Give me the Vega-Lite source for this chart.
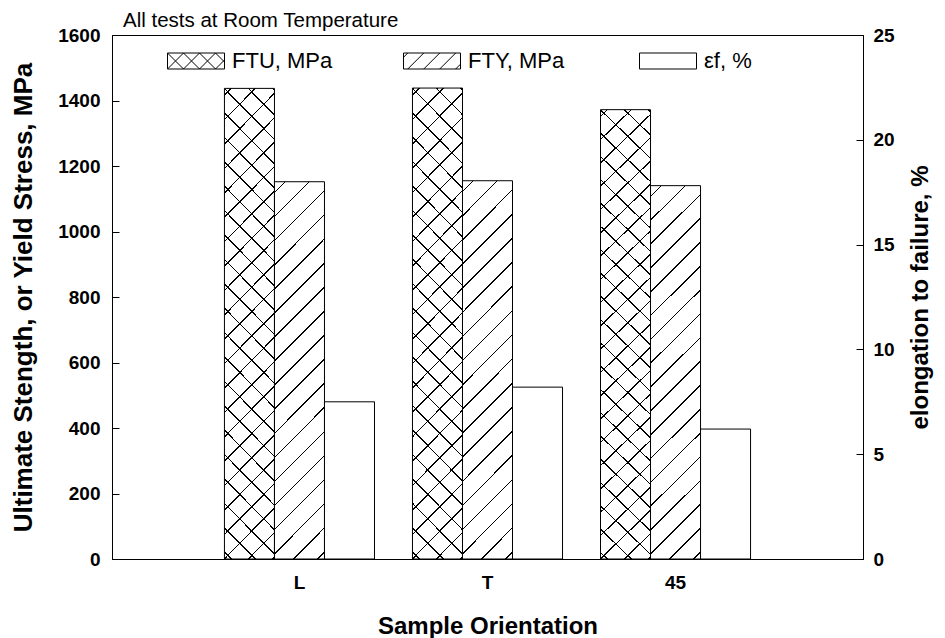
{
  "$schema": "https://vega.github.io/schema/vega-lite/v6.json",
  "width": 751,
  "height": 524,
  "autosize": {"type": "none"},
  "padding": {"left": 112, "top": 35, "right": 82, "bottom": 79},
  "title": {"text": "All tests at Room Temperature", "anchor": "start", "frame": "group", "fontSize": 20.5, "fontWeight": "normal", "font": "Liberation Sans", "color": "black", "offset": -7, "dx": 11, "dy": 14, "baseline": "alphabetic"},
  "data": {"values": [
    {"orientation": "L", "series": "FTU, MPa", "value": 1437},
    {"orientation": "L", "series": "FTY, MPa", "value": 1152},
    {"orientation": "L", "series": "εf, %", "value": 7.5},
    {"orientation": "T", "series": "FTU, MPa", "value": 1438},
    {"orientation": "T", "series": "FTY, MPa", "value": 1155},
    {"orientation": "T", "series": "εf, %", "value": 8.2},
    {"orientation": "45", "series": "FTU, MPa", "value": 1372},
    {"orientation": "45", "series": "FTY, MPa", "value": 1140},
    {"orientation": "45", "series": "εf, %", "value": 6.2}
  ]},
  "encoding": {
    "x": {"field": "orientation", "type": "nominal", "sort": ["L", "T", "45"],
      "scale": {"paddingInner": 0.202, "paddingOuter": 0.598},
      "axis": {"title": "Sample Orientation", "labelAngle": 0, "labelPadding": 21, "titlePadding": 22}},
    "xOffset": {"field": "series", "type": "nominal", "scale": {"domain": ["FTU, MPa", "FTY, MPa", "εf, %"], "paddingInner": 0, "paddingOuter": 0}}
  },
  "layer": [
    {"layer": [
      {"transform": [{"filter": "datum.series !== 'εf, %'"}],
       "mark": {"type": "bar", "stroke": "black", "strokeWidth": 1},
       "encoding": {
         "y": {"field": "value", "type": "quantitative", "scale": {"domain": [0, 1600], "nice": false},
           "axis": {"title": "Ultimate Stength, or Yield Stress, MPa", "titleFontSize": 26, "values": [0, 200, 400, 600, 800, 1000, 1200, 1400, 1600], "format": "d", "labelPadding": 19, "titlePadding": 21}},
         "fill": {"field": "series", "type": "nominal",
           "scale": {"domain": ["FTU, MPa", "FTY, MPa", "εf, %"], "range": ["white", "white", "white"]},
           "legend": {"orient": "none", "legendX": 55, "legendY": -3, "direction": "horizontal", "columns": 3, "gridAlign": "all", "columnPadding": 68, "title": null,
             "symbolSize": 3249, "symbolStrokeColor": "black", "symbolStrokeWidth": 1, "symbolFillColor": "white", "symbolOpacity": 1,
             "labelFontSize": 22, "labelFont": "Liberation Sans", "labelColor": "black", "labelOffset": 7, "labelLimit": 300,
             "encode": {"symbols": {"update": {
               "shape": {"signal": "datum.value === 'FTU, MPa' ? 'M-1,-0.2807H1V0.2807H-1Z M-1,-0.2807L-0.4386,0.2807 M-0.4386,-0.2807L0.1228,0.2807 M0.1228,-0.2807L0.6842,0.2807 M0.6842,-0.2807L1,0.0351 M-1,0.2807L-0.4386,-0.2807 M-0.4386,0.2807L0.1228,-0.2807 M0.1228,0.2807L0.6842,-0.2807 M0.6842,0.2807L1,-0.0351' : datum.value === 'FTY, MPa' ? 'M-1,-0.2807H1V0.2807H-1Z M-1,-0.1307L-0.85,-0.2807 M-0.85,0.2807L-0.2886,-0.2807 M-0.29,0.2807L0.2714,-0.2807 M0.27,0.2807L0.8314,-0.2807 M0.83,0.2807L1,0.1107' : 'M-1,-0.2807H1V0.2807H-1Z'"},
               "stroke": {"value": "black"},
               "strokeWidth": {"value": 1},
               "fill": {"value": "white"},
               "opacity": {"value": 1}
             }}}}}
       }},
      {"transform": [{"filter": "datum.series === 'FTU, MPa'"}],
       "mark": {"type": "bar", "fill": {"gradient": "linear", "x1": 0, "y1": 0, "x2": 0.11827, "y2": 1.0952, "stops": [
         {"offset": 0, "color": "rgba(0,0,0,0)"},
         {"offset": 0.01170, "color": "rgba(0,0,0,0)"}, {"offset": 0.01170, "color": "#000"}, {"offset": 0.01481, "color": "#000"}, {"offset": 0.01481, "color": "rgba(0,0,0,0)"},
         {"offset": 0.05848, "color": "rgba(0,0,0,0)"}, {"offset": 0.05848, "color": "#000"}, {"offset": 0.06160, "color": "#000"}, {"offset": 0.06160, "color": "rgba(0,0,0,0)"},
         {"offset": 0.10526, "color": "rgba(0,0,0,0)"}, {"offset": 0.10526, "color": "#000"}, {"offset": 0.10838, "color": "#000"}, {"offset": 0.10838, "color": "rgba(0,0,0,0)"},
         {"offset": 0.15205, "color": "rgba(0,0,0,0)"}, {"offset": 0.15205, "color": "#000"}, {"offset": 0.15517, "color": "#000"}, {"offset": 0.15517, "color": "rgba(0,0,0,0)"},
         {"offset": 0.19883, "color": "rgba(0,0,0,0)"}, {"offset": 0.19883, "color": "#000"}, {"offset": 0.20195, "color": "#000"}, {"offset": 0.20195, "color": "rgba(0,0,0,0)"},
         {"offset": 0.24561, "color": "rgba(0,0,0,0)"}, {"offset": 0.24561, "color": "#000"}, {"offset": 0.24873, "color": "#000"}, {"offset": 0.24873, "color": "rgba(0,0,0,0)"},
         {"offset": 0.29240, "color": "rgba(0,0,0,0)"}, {"offset": 0.29240, "color": "#000"}, {"offset": 0.29552, "color": "#000"}, {"offset": 0.29552, "color": "rgba(0,0,0,0)"},
         {"offset": 0.33918, "color": "rgba(0,0,0,0)"}, {"offset": 0.33918, "color": "#000"}, {"offset": 0.34230, "color": "#000"}, {"offset": 0.34230, "color": "rgba(0,0,0,0)"},
         {"offset": 0.38596, "color": "rgba(0,0,0,0)"}, {"offset": 0.38596, "color": "#000"}, {"offset": 0.38908, "color": "#000"}, {"offset": 0.38908, "color": "rgba(0,0,0,0)"},
         {"offset": 0.43275, "color": "rgba(0,0,0,0)"}, {"offset": 0.43275, "color": "#000"}, {"offset": 0.43587, "color": "#000"}, {"offset": 0.43587, "color": "rgba(0,0,0,0)"},
         {"offset": 0.47953, "color": "rgba(0,0,0,0)"}, {"offset": 0.47953, "color": "#000"}, {"offset": 0.48265, "color": "#000"}, {"offset": 0.48265, "color": "rgba(0,0,0,0)"},
         {"offset": 0.52632, "color": "rgba(0,0,0,0)"}, {"offset": 0.52632, "color": "#000"}, {"offset": 0.52943, "color": "#000"}, {"offset": 0.52943, "color": "rgba(0,0,0,0)"},
         {"offset": 0.57310, "color": "rgba(0,0,0,0)"}, {"offset": 0.57310, "color": "#000"}, {"offset": 0.57622, "color": "#000"}, {"offset": 0.57622, "color": "rgba(0,0,0,0)"},
         {"offset": 0.61988, "color": "rgba(0,0,0,0)"}, {"offset": 0.61988, "color": "#000"}, {"offset": 0.62300, "color": "#000"}, {"offset": 0.62300, "color": "rgba(0,0,0,0)"},
         {"offset": 0.66667, "color": "rgba(0,0,0,0)"}, {"offset": 0.66667, "color": "#000"}, {"offset": 0.66979, "color": "#000"}, {"offset": 0.66979, "color": "rgba(0,0,0,0)"},
         {"offset": 0.71345, "color": "rgba(0,0,0,0)"}, {"offset": 0.71345, "color": "#000"}, {"offset": 0.71657, "color": "#000"}, {"offset": 0.71657, "color": "rgba(0,0,0,0)"},
         {"offset": 0.76023, "color": "rgba(0,0,0,0)"}, {"offset": 0.76023, "color": "#000"}, {"offset": 0.76335, "color": "#000"}, {"offset": 0.76335, "color": "rgba(0,0,0,0)"},
         {"offset": 0.80702, "color": "rgba(0,0,0,0)"}, {"offset": 0.80702, "color": "#000"}, {"offset": 0.81014, "color": "#000"}, {"offset": 0.81014, "color": "rgba(0,0,0,0)"},
         {"offset": 0.85380, "color": "rgba(0,0,0,0)"}, {"offset": 0.85380, "color": "#000"}, {"offset": 0.85692, "color": "#000"}, {"offset": 0.85692, "color": "rgba(0,0,0,0)"},
         {"offset": 0.90058, "color": "rgba(0,0,0,0)"}, {"offset": 0.90058, "color": "#000"}, {"offset": 0.90370, "color": "#000"}, {"offset": 0.90370, "color": "rgba(0,0,0,0)"},
         {"offset": 0.94737, "color": "rgba(0,0,0,0)"}, {"offset": 0.94737, "color": "#000"}, {"offset": 0.95049, "color": "#000"}, {"offset": 0.95049, "color": "rgba(0,0,0,0)"},
         {"offset": 0.99415, "color": "rgba(0,0,0,0)"}, {"offset": 0.99415, "color": "#000"}, {"offset": 0.99727, "color": "#000"}, {"offset": 0.99727, "color": "rgba(0,0,0,0)"},
         {"offset": 1, "color": "rgba(0,0,0,0)"}
       ]}},
       "encoding": {"y": {"field": "value", "type": "quantitative"}}},
      {"transform": [{"filter": "datum.series === 'FTU, MPa'"}],
       "mark": {"type": "bar", "fill": {"gradient": "linear", "x1": 0, "y1": 1, "x2": 0.11827, "y2": -0.0952, "stops": [
         {"offset": 0, "color": "rgba(0,0,0,0)"},
         {"offset": 0.01170, "color": "rgba(0,0,0,0)"}, {"offset": 0.01170, "color": "#000"}, {"offset": 0.01481, "color": "#000"}, {"offset": 0.01481, "color": "rgba(0,0,0,0)"},
         {"offset": 0.05848, "color": "rgba(0,0,0,0)"}, {"offset": 0.05848, "color": "#000"}, {"offset": 0.06160, "color": "#000"}, {"offset": 0.06160, "color": "rgba(0,0,0,0)"},
         {"offset": 0.10526, "color": "rgba(0,0,0,0)"}, {"offset": 0.10526, "color": "#000"}, {"offset": 0.10838, "color": "#000"}, {"offset": 0.10838, "color": "rgba(0,0,0,0)"},
         {"offset": 0.15205, "color": "rgba(0,0,0,0)"}, {"offset": 0.15205, "color": "#000"}, {"offset": 0.15517, "color": "#000"}, {"offset": 0.15517, "color": "rgba(0,0,0,0)"},
         {"offset": 0.19883, "color": "rgba(0,0,0,0)"}, {"offset": 0.19883, "color": "#000"}, {"offset": 0.20195, "color": "#000"}, {"offset": 0.20195, "color": "rgba(0,0,0,0)"},
         {"offset": 0.24561, "color": "rgba(0,0,0,0)"}, {"offset": 0.24561, "color": "#000"}, {"offset": 0.24873, "color": "#000"}, {"offset": 0.24873, "color": "rgba(0,0,0,0)"},
         {"offset": 0.29240, "color": "rgba(0,0,0,0)"}, {"offset": 0.29240, "color": "#000"}, {"offset": 0.29552, "color": "#000"}, {"offset": 0.29552, "color": "rgba(0,0,0,0)"},
         {"offset": 0.33918, "color": "rgba(0,0,0,0)"}, {"offset": 0.33918, "color": "#000"}, {"offset": 0.34230, "color": "#000"}, {"offset": 0.34230, "color": "rgba(0,0,0,0)"},
         {"offset": 0.38596, "color": "rgba(0,0,0,0)"}, {"offset": 0.38596, "color": "#000"}, {"offset": 0.38908, "color": "#000"}, {"offset": 0.38908, "color": "rgba(0,0,0,0)"},
         {"offset": 0.43275, "color": "rgba(0,0,0,0)"}, {"offset": 0.43275, "color": "#000"}, {"offset": 0.43587, "color": "#000"}, {"offset": 0.43587, "color": "rgba(0,0,0,0)"},
         {"offset": 0.47953, "color": "rgba(0,0,0,0)"}, {"offset": 0.47953, "color": "#000"}, {"offset": 0.48265, "color": "#000"}, {"offset": 0.48265, "color": "rgba(0,0,0,0)"},
         {"offset": 0.52632, "color": "rgba(0,0,0,0)"}, {"offset": 0.52632, "color": "#000"}, {"offset": 0.52943, "color": "#000"}, {"offset": 0.52943, "color": "rgba(0,0,0,0)"},
         {"offset": 0.57310, "color": "rgba(0,0,0,0)"}, {"offset": 0.57310, "color": "#000"}, {"offset": 0.57622, "color": "#000"}, {"offset": 0.57622, "color": "rgba(0,0,0,0)"},
         {"offset": 0.61988, "color": "rgba(0,0,0,0)"}, {"offset": 0.61988, "color": "#000"}, {"offset": 0.62300, "color": "#000"}, {"offset": 0.62300, "color": "rgba(0,0,0,0)"},
         {"offset": 0.66667, "color": "rgba(0,0,0,0)"}, {"offset": 0.66667, "color": "#000"}, {"offset": 0.66979, "color": "#000"}, {"offset": 0.66979, "color": "rgba(0,0,0,0)"},
         {"offset": 0.71345, "color": "rgba(0,0,0,0)"}, {"offset": 0.71345, "color": "#000"}, {"offset": 0.71657, "color": "#000"}, {"offset": 0.71657, "color": "rgba(0,0,0,0)"},
         {"offset": 0.76023, "color": "rgba(0,0,0,0)"}, {"offset": 0.76023, "color": "#000"}, {"offset": 0.76335, "color": "#000"}, {"offset": 0.76335, "color": "rgba(0,0,0,0)"},
         {"offset": 0.80702, "color": "rgba(0,0,0,0)"}, {"offset": 0.80702, "color": "#000"}, {"offset": 0.81014, "color": "#000"}, {"offset": 0.81014, "color": "rgba(0,0,0,0)"},
         {"offset": 0.85380, "color": "rgba(0,0,0,0)"}, {"offset": 0.85380, "color": "#000"}, {"offset": 0.85692, "color": "#000"}, {"offset": 0.85692, "color": "rgba(0,0,0,0)"},
         {"offset": 0.90058, "color": "rgba(0,0,0,0)"}, {"offset": 0.90058, "color": "#000"}, {"offset": 0.90370, "color": "#000"}, {"offset": 0.90370, "color": "rgba(0,0,0,0)"},
         {"offset": 0.94737, "color": "rgba(0,0,0,0)"}, {"offset": 0.94737, "color": "#000"}, {"offset": 0.95049, "color": "#000"}, {"offset": 0.95049, "color": "rgba(0,0,0,0)"},
         {"offset": 0.99415, "color": "rgba(0,0,0,0)"}, {"offset": 0.99415, "color": "#000"}, {"offset": 0.99727, "color": "#000"}, {"offset": 0.99727, "color": "rgba(0,0,0,0)"},
         {"offset": 1, "color": "rgba(0,0,0,0)"}
       ]}},
       "encoding": {"y": {"field": "value", "type": "quantitative"}}},
      {"transform": [{"filter": "datum.series === 'FTY, MPa'"}],
       "mark": {"type": "bar", "fill": {"gradient": "linear", "x1": 0, "y1": 0, "x2": 0.14805, "y2": 1.11333, "stops": [
         {"offset": 0, "color": "rgba(0,0,0,0)"},
         {"offset": 0.02347, "color": "rgba(0,0,0,0)"}, {"offset": 0.02347, "color": "#000"}, {"offset": 0.02723, "color": "#000"}, {"offset": 0.02723, "color": "rgba(0,0,0,0)"},
         {"offset": 0.07981, "color": "rgba(0,0,0,0)"}, {"offset": 0.07981, "color": "#000"}, {"offset": 0.08357, "color": "#000"}, {"offset": 0.08357, "color": "rgba(0,0,0,0)"},
         {"offset": 0.13615, "color": "rgba(0,0,0,0)"}, {"offset": 0.13615, "color": "#000"}, {"offset": 0.13991, "color": "#000"}, {"offset": 0.13991, "color": "rgba(0,0,0,0)"},
         {"offset": 0.19249, "color": "rgba(0,0,0,0)"}, {"offset": 0.19249, "color": "#000"}, {"offset": 0.19624, "color": "#000"}, {"offset": 0.19624, "color": "rgba(0,0,0,0)"},
         {"offset": 0.24883, "color": "rgba(0,0,0,0)"}, {"offset": 0.24883, "color": "#000"}, {"offset": 0.25258, "color": "#000"}, {"offset": 0.25258, "color": "rgba(0,0,0,0)"},
         {"offset": 0.30516, "color": "rgba(0,0,0,0)"}, {"offset": 0.30516, "color": "#000"}, {"offset": 0.30892, "color": "#000"}, {"offset": 0.30892, "color": "rgba(0,0,0,0)"},
         {"offset": 0.36150, "color": "rgba(0,0,0,0)"}, {"offset": 0.36150, "color": "#000"}, {"offset": 0.36526, "color": "#000"}, {"offset": 0.36526, "color": "rgba(0,0,0,0)"},
         {"offset": 0.41784, "color": "rgba(0,0,0,0)"}, {"offset": 0.41784, "color": "#000"}, {"offset": 0.42160, "color": "#000"}, {"offset": 0.42160, "color": "rgba(0,0,0,0)"},
         {"offset": 0.47418, "color": "rgba(0,0,0,0)"}, {"offset": 0.47418, "color": "#000"}, {"offset": 0.47793, "color": "#000"}, {"offset": 0.47793, "color": "rgba(0,0,0,0)"},
         {"offset": 0.53052, "color": "rgba(0,0,0,0)"}, {"offset": 0.53052, "color": "#000"}, {"offset": 0.53427, "color": "#000"}, {"offset": 0.53427, "color": "rgba(0,0,0,0)"},
         {"offset": 0.58685, "color": "rgba(0,0,0,0)"}, {"offset": 0.58685, "color": "#000"}, {"offset": 0.59061, "color": "#000"}, {"offset": 0.59061, "color": "rgba(0,0,0,0)"},
         {"offset": 0.64319, "color": "rgba(0,0,0,0)"}, {"offset": 0.64319, "color": "#000"}, {"offset": 0.64695, "color": "#000"}, {"offset": 0.64695, "color": "rgba(0,0,0,0)"},
         {"offset": 0.69953, "color": "rgba(0,0,0,0)"}, {"offset": 0.69953, "color": "#000"}, {"offset": 0.70329, "color": "#000"}, {"offset": 0.70329, "color": "rgba(0,0,0,0)"},
         {"offset": 0.75587, "color": "rgba(0,0,0,0)"}, {"offset": 0.75587, "color": "#000"}, {"offset": 0.75962, "color": "#000"}, {"offset": 0.75962, "color": "rgba(0,0,0,0)"},
         {"offset": 0.81221, "color": "rgba(0,0,0,0)"}, {"offset": 0.81221, "color": "#000"}, {"offset": 0.81596, "color": "#000"}, {"offset": 0.81596, "color": "rgba(0,0,0,0)"},
         {"offset": 0.86854, "color": "rgba(0,0,0,0)"}, {"offset": 0.86854, "color": "#000"}, {"offset": 0.87230, "color": "#000"}, {"offset": 0.87230, "color": "rgba(0,0,0,0)"},
         {"offset": 0.92488, "color": "rgba(0,0,0,0)"}, {"offset": 0.92488, "color": "#000"}, {"offset": 0.92864, "color": "#000"}, {"offset": 0.92864, "color": "rgba(0,0,0,0)"},
         {"offset": 0.98122, "color": "rgba(0,0,0,0)"}, {"offset": 0.98122, "color": "#000"}, {"offset": 0.98498, "color": "#000"}, {"offset": 0.98498, "color": "rgba(0,0,0,0)"},
         {"offset": 1, "color": "rgba(0,0,0,0)"}
       ]}},
       "encoding": {"y": {"field": "value", "type": "quantitative"}}}
    ]},
    {"transform": [{"filter": "datum.series === 'εf, %'"}],
     "mark": {"type": "bar", "stroke": "black", "strokeWidth": 1},
     "encoding": {
       "y": {"field": "value", "type": "quantitative", "scale": {"domain": [0, 25], "nice": false},
         "axis": {"orient": "right", "title": "elongation to failure, %", "values": [0, 5, 10, 15, 20, 25], "format": "d", "labelPadding": 17, "titlePadding": 14, "titleAngle": 270, "titleBaseline": "top"}},
       "fill": {"field": "series", "type": "nominal"}
     }}
  ],
  "resolve": {"scale": {"y": "independent"}},
  "config": {
    "font": "Liberation Sans",
    "view": {"stroke": "black", "strokeWidth": 1},
    "axis": {"domainColor": "black", "tickColor": "black", "labelColor": "black", "titleColor": "black",
      "labelFont": "Liberation Sans", "titleFont": "Liberation Sans", "labelFontSize": 19, "labelFontWeight": "bold",
      "titleFontSize": 24, "titleFontWeight": "bold", "grid": false, "tickSize": -7, "domainWidth": 1, "tickWidth": 1}
  }
}
